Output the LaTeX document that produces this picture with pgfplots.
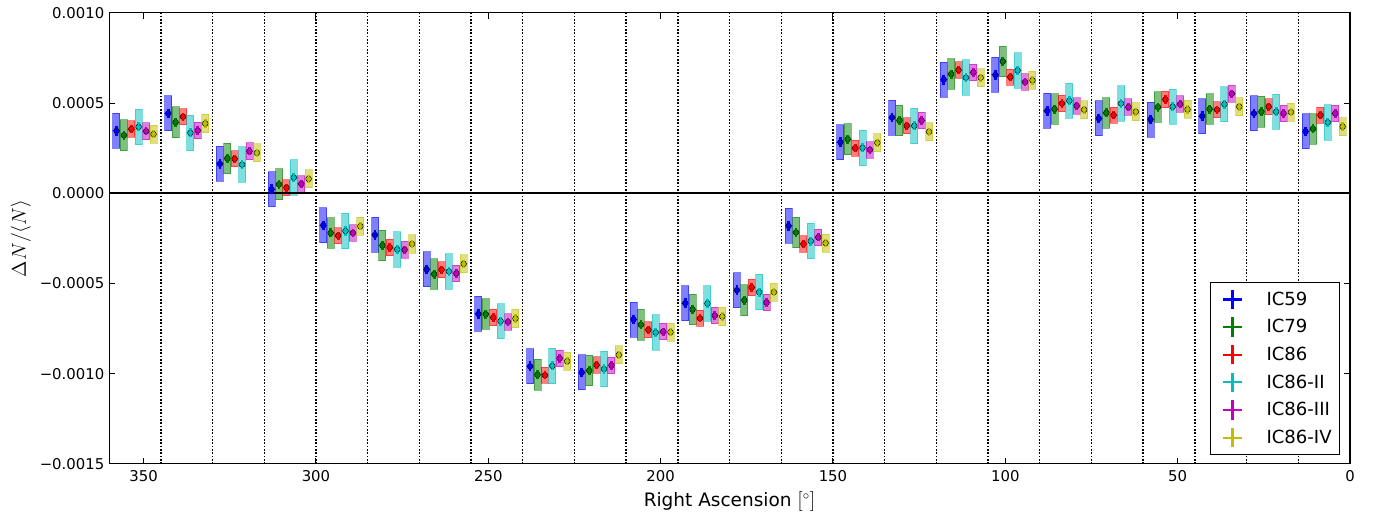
\documentclass[border=0pt]{standalone}
\usepackage{pgfplots}
\pgfplotsset{compat=1.18}
\usepackage{pgfplotstable}
\usepackage{fontspec}
\setmainfont{DejaVu Sans}
\definecolor{mB}{rgb}{0,0,1}
\definecolor{mG}{rgb}{0,0.5,0}
\definecolor{mR}{rgb}{1,0,0}
\definecolor{mC}{rgb}{0,0.75,0.75}
\definecolor{mM}{rgb}{0.75,0,0.75}
\definecolor{mY}{rgb}{0.75,0.75,0}

% relative intensity in units of 1e-4, bin centres in degrees
\pgfplotstableread{
ra    b      g      r      c      m      y
352.5  3.46   3.22   3.56   3.68   3.44   3.28
337.5  4.43   3.94   4.24   3.35   3.48   3.87
322.5  1.63   1.93   1.91   1.59   2.33   2.24
307.5  0.22   0.50   0.31   0.87   0.52   0.80
292.5 -1.78  -2.20  -2.35  -2.09  -2.20  -1.83
277.5 -2.31  -2.89  -3.00  -3.11  -3.13  -2.81
262.5 -4.22  -4.48  -4.24  -4.33  -4.44  -3.91
247.5 -6.69  -6.70  -6.89  -7.09  -7.13  -6.94
232.5 -9.59  -10.06 -10.09 -9.57  -9.15  -9.31
217.5 -9.93  -9.83  -9.52  -9.74  -9.54  -8.96
202.5 -7.00  -7.29  -7.57  -7.72  -7.67  -7.70
187.5 -6.09  -6.44  -6.93  -6.11  -6.78  -6.83
172.5 -5.37  -5.93  -5.22  -5.48  -6.06  -5.48
157.5 -1.81  -2.17  -2.81  -2.65  -2.44  -2.76
142.5  2.83   3.00   2.50   2.52   2.41   2.80
127.5  4.20   4.04   3.74   3.74   4.04   3.41
112.5  6.30   6.61   6.83   6.41   6.70   6.41
97.5   6.56   7.31   6.44   6.81   6.17   6.26
82.5   4.57   4.67   4.98   5.13   4.85   4.63
67.5   4.15   4.46   4.33   4.98   4.78   4.52
52.5   4.09   4.78   5.20   4.80   4.94   4.65
37.5   4.28   4.67   4.63   4.94   5.52   4.80
22.5   4.43   4.52   4.80   4.52   4.43   4.50
7.5    3.43   3.57   4.33   3.93   4.43   3.70
}\dipole

\pgfplotsset{
  sysbox/.style 2 args={only marks, mark=none, forget plot,
    error bars/y dir=both, error bars/y fixed=#2,
    error bars/draw error bar/.code 2 args={%
      \path ##1 coordinate (ebA);
      \path ##2 coordinate (ebB);
      \filldraw[fill=#1, draw=#1, fill opacity=0.5, draw opacity=0.5, line width=0.72pt]
        ([xshift=-2.52pt]ebA) rectangle ([xshift=2.52pt]ebB);
    }},
  stat/.style 2 args={only marks, forget plot, mark=diamond*, mark size=2.1pt,
    color=#1, mark options={solid, fill=#1, draw=#1, line width=0.6pt, fill opacity=1, draw opacity=1},
    error bars/y dir=both, error bars/y fixed=#2,
    error bars/error mark=none,
    error bars/error bar style={line width=2pt, #1}},
  legplus/.style={legend image code/.code={%
      \path (0pt,0pt);
      \draw[##1, line width=1.6pt] (2.7pt,0pt) -- (16.6pt,0pt);
      \draw[##1, line width=1.6pt] (9.65pt,-6.95pt) -- (9.65pt,6.95pt);}},
}

\begin{document}
\begin{tikzpicture}
\begin{axis}[
  at={(0,0)}, anchor=south west,
  scale only axis, width=893.4pt, height=324.7pt,
  x dir=reverse, xmin=0, xmax=360,
  ymin=-15, ymax=10,
  xtick={0,50,100,150,200,250,300,350},
  xticklabels={0,50,100,150,200,250,300,350},
  ytick={-15,-10,-5,0,5,10},
  yticklabels={−0.0015,−0.0010,−0.0005,0.0000,0.0005,0.0010},
  extra x ticks={15,30,45,60,75,90,105,120,135,150,165,180,195,210,225,240,255,270,285,300,315,330,345},
  extra x tick labels={},
  extra x tick style={grid=major, major tick length=0pt,
    major grid style={black, line width=1.0pt, dash pattern=on 1.0pt off 1.4pt}},
  tick align=inside,
  major tick length=4.1pt,
  tick style={black, line width=0.72pt},
  axis line style={line width=0.8pt},
  tick label style={font=\fontsize{10.7}{12}\selectfont},
  xticklabel style={anchor=base, yshift=-13pt},
  xlabel={Right Ascension $[^\circ]$},
  ylabel={$\Delta N/\langle N\rangle$},
  every axis x label/.style={at={(axis description cs:0.5,0)}, anchor=base, yshift=-30.7pt,
    font=\fontsize{13.3}{16}\selectfont},
  every axis y label/.style={at={(axis description cs:-0.0711,0.5)}, anchor=center, rotate=90,
    font=\fontsize{13.3}{16}\selectfont},
  legend cell align=left,
  legend style={at={(0.992,0.020)}, anchor=south east, draw=black, line width=0.72pt,
    fill=white, inner xsep=5.7pt, inner ysep=4.3pt, row sep=4.4pt,
    font=\fontsize{13}{15}\selectfont,
    nodes={inner sep=0pt},
    /tikz/every odd column/.append style={column sep=16.8pt}},
]
% systematic boxes
\addplot[sysbox={mB}{0.97}] table[x expr=\thisrow{ra}+5.37, y=b] {\dipole};
\addplot[sysbox={mG}{0.85}] table[x expr=\thisrow{ra}+3.22, y=g] {\dipole};
\addplot[sysbox={mR}{0.45}] table[x expr=\thisrow{ra}+1.07, y=r] {\dipole};
\addplot[sysbox={mC}{0.98}] table[x expr=\thisrow{ra}-1.07, y=c] {\dipole};
\addplot[sysbox={mM}{0.46}] table[x expr=\thisrow{ra}-3.22, y=m] {\dipole};
\addplot[sysbox={mY}{0.50}] table[x expr=\thisrow{ra}-5.37, y=y] {\dipole};
% zero line
\addplot[black, line width=1.45pt, forget plot] coordinates {(0,0) (360,0)};
% statistical points
\addplot[stat={mB}{0.27}] table[x expr=\thisrow{ra}+5.37, y=b] {\dipole};
\addplot[stat={mG}{0.25}] table[x expr=\thisrow{ra}+3.22, y=g] {\dipole};
\addplot[stat={mR}{0.23}] table[x expr=\thisrow{ra}+1.07, y=r] {\dipole};
\addplot[stat={mC}{0.25}] table[x expr=\thisrow{ra}-1.07, y=c] {\dipole};
\addplot[stat={mM}{0.23}] table[x expr=\thisrow{ra}-3.22, y=m] {\dipole};
\addplot[stat={mY}{0.23}] table[x expr=\thisrow{ra}-5.37, y=y] {\dipole};
% legend
\addlegendimage{mB, legplus}\addlegendentry{IC59}
\addlegendimage{mG, legplus}\addlegendentry{IC79}
\addlegendimage{mR, legplus}\addlegendentry{IC86}
\addlegendimage{mC, legplus}\addlegendentry{IC86-II}
\addlegendimage{mM, legplus}\addlegendentry{IC86-III}
\addlegendimage{mY, legplus}\addlegendentry{IC86-IV}
\end{axis}
\pgfresetboundingbox
\path (-78.6pt,-37.4pt) rectangle (911.4pt,334.0pt);
\end{tikzpicture}
\end{document}
